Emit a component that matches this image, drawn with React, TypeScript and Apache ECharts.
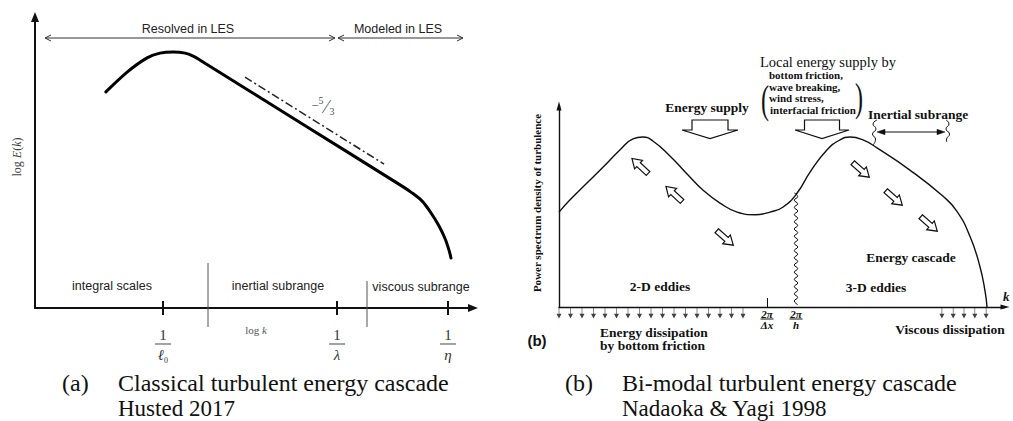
import React, { useEffect, useRef } from 'react';
import * as echarts from 'echarts';

// ---------- Panel (a): classical cascade (x: log k, y: log E(k)) ----------
const spectrumA: [number, number][] = [
  [1.6, 7.3], [2.08, 7.97], [2.53, 8.45], [2.82, 8.61], [3.12, 8.65], [3.39, 8.61],
  [3.57, 8.51], [3.72, 8.38], [6.0, 6.25], [8.24, 4.16], [8.51, 3.89], [8.74, 3.61],
  [8.94, 3.21], [9.12, 2.77], [9.26, 2.33], [9.35, 1.93], [9.39, 1.69],
];
const slopeRefA: [number, number][] = [[4.74, 7.8], [7.88, 4.86]];
const tickValuesA = [2.889, 6.817, 9.323];
const tickDenomsA = ['ℓ', 'λ', 'η'];
const tickSubsA = ['0', '', ''];
const regionLabelsA = ['integral scales', 'inertial subrange', 'viscous subrange'];
const scaleLabelsA = ['Resolved in LES', 'Modeled in LES'];

// ---------- Panel (b): bi-modal cascade ----------
const spectrumB: [number, number][] = [
  [0, 4.63], [0.24, 5.22], [0.62, 6.05], [0.98, 6.83], [1.35, 7.66], [1.64, 8.2],
  [1.86, 8.29], [2.08, 8.1], [2.46, 7.37], [2.84, 6.49], [3.19, 5.71], [3.57, 5.07],
  [3.95, 4.63], [4.35, 4.5], [4.68, 4.63], [4.97, 4.88], [5.28, 5.56], [5.57, 6.59],
  [5.94, 7.66], [6.23, 8.15], [6.45, 8.29], [6.74, 8.15], [7.05, 7.76], [7.78, 6.68],
  [8.51, 5.41], [8.82, 4.68], [9.11, 3.46], [9.33, 2.0], [9.45, 0.73], [9.49, 0],
];
const tickValuesB = [4.612];
const labelValuesB = [4.612, 5.255];
const labelDenomsB = ['Δx', 'h'];
const dissipationLowX = [0, 0.255, 0.51, 0.765, 1.02, 1.275, 1.53, 1.785, 2.04, 2.295, 2.55, 2.805, 3.06, 3.315, 3.57, 3.825, 4.08];
const dissipationHighX = [8.49, 8.74, 8.98, 9.22, 9.47];
const dissipationArrowY = -0.293;

const SERIF = "'Liberation Serif', 'Times New Roman', serif";
const SANS = "'Liberation Sans', Arial, sans-serif";

function nearest(vals: number[], v: number) {
  let best = 0;
  vals.forEach((x, i) => { if (Math.abs(x - v) < Math.abs(vals[best] - v)) best = i; });
  return best;
}

type P = [number, number];

function txt(text: string, x: number, y: number, o: any = {}) {
  return {
    type: 'text', x, y, z: 100, silent: true, rotation: o.rotation || 0,
    style: {
      text, fill: o.fill || '#111', fontFamily: o.family || SERIF, fontSize: o.size || 13,
      fontWeight: o.weight || 'normal', fontStyle: o.style || 'normal',
      align: o.align || 'center', verticalAlign: 'middle', rich: o.rich,
    },
    scaleX: o.scaleX || 1,
  };
}
function line(x1: number, y1: number, x2: number, y2: number, stroke = '#333', w = 1) {
  return { type: 'line', z: 100, silent: true, shape: { x1, y1, x2, y2 }, style: { stroke, lineWidth: w } };
}
function pline(points: P[], stroke = '#111', w = 1, smooth = 0) {
  return { type: 'polyline', z: 100, silent: true, shape: { points, smooth }, style: { stroke, lineWidth: w, fill: 'none' } };
}
function poly(points: P[], fill = '#fff', stroke = '#111', w = 1.2) {
  return { type: 'polygon', z: 100, silent: true, shape: { points }, style: { fill, stroke, lineWidth: w } };
}
function hollowDown(cx: number, halfBody: number, halfWing: number) {
  const top = 120, sh = 130, tip = 138.5;
  return poly([
    [cx - halfBody, top], [cx + halfBody, top], [cx + halfBody, sh], [cx + halfWing, sh],
    [cx, tip], [cx - halfWing, sh], [cx - halfBody, sh],
  ]);
}
function smallArrow(x: number, y: number, deg: number) {
  const pts: P[] = [[-11, -2.6], [2, -2.6], [2, -5.8], [11, 0], [2, 5.8], [2, 2.6], [-11, 2.6]];
  return {
    type: 'polygon', z: 100, silent: true, x, y, rotation: (deg * Math.PI) / 180,
    shape: { points: pts }, style: { fill: '#fff', stroke: '#111', lineWidth: 1.2 },
  };
}

function buildGraphics() {
  const g: any[] = [];
  // ---- Panel (a) ----
  const c = '#333';
  g.push(line(45, 38, 335, 38, c, 1));
  g.push(pline([[51, 35], [45, 38], [51, 41]], c, 1));
  g.push(pline([[329, 35], [335, 38], [329, 41]], c, 1));
  g.push(line(338, 38, 463, 38, c, 1));
  g.push(pline([[344, 35], [338, 38], [344, 41]], c, 1));
  g.push(pline([[457, 35], [463, 38], [457, 41]], c, 1));
  g.push(txt(scaleLabelsA[0], 188, 29, { family: SANS, size: 12.5, fill: '#222' }));
  g.push(txt(scaleLabelsA[1], 398, 29, { family: SANS, size: 12.5, fill: '#222' }));
  g.push(line(208, 263, 208, 327, '#555', 1));
  g.push(line(367, 281, 367, 327, '#555', 1));
  g.push(txt(regionLabelsA[0], 112, 286, { family: SANS, size: 12.5, fill: '#222' }));
  g.push(txt(regionLabelsA[1], 278, 286, { family: SANS, size: 12.5, fill: '#222' }));
  g.push(txt(regionLabelsA[2], 421, 287, { family: SANS, size: 12.5, fill: '#222' }));
  g.push(txt('log {i|k}', 256, 330, { size: 11, fill: '#555', rich: { i: { fontStyle: 'italic', fontFamily: SERIF, fontSize: 11, fill: '#555' } } }));
  g.push(txt('log {i|E}({i|k})', 17, 157, { size: 12, fill: '#444', rotation: Math.PI / 2, rich: { i: { fontStyle: 'italic', fontFamily: SERIF, fontSize: 12, fill: '#444' } } }));
  g.push(txt('−', 315, 105, { size: 13, fill: '#555' }));
  g.push(txt('5', 321, 100, { size: 10, fill: '#555' }));
  g.push(txt('⁄', 326.5, 107, { size: 18, fill: '#555' }));
  g.push(txt('3', 332, 111, { size: 10, fill: '#555' }));
  // captions
  g.push(txt('(a)', 62, 383, { size: 24, align: 'left' }));
  g.push(txt('Classical turbulent energy cascade', 118, 383, { size: 24, align: 'left' }));
  g.push(txt('Husted 2017', 118, 408, { size: 23, align: 'left' }));

  // ---- Panel (b) ----
  g.push(txt('Power spectrum density of turbulence', 536.5, 203, { size: 11, weight: 'bold', rotation: Math.PI / 2 }));
  g.push(txt('Energy supply', 707, 107, { size: 13.5, weight: 'bold' }));
  g.push(hollowDown(710, 18, 28));
  g.push(txt('Local energy supply by', 828, 62, { size: 14.5 }));
  g.push(txt('bottom friction,', 769, 74.5, { size: 11, weight: 'bold', align: 'left' }));
  g.push(txt('wave breaking,', 769, 86.5, { size: 11, weight: 'bold', align: 'left' }));
  g.push(txt('wind stress,', 769, 98, { size: 11, weight: 'bold', align: 'left' }));
  g.push(txt('interfacial friction', 770, 109.5, { size: 11, weight: 'bold', align: 'left' }));
  g.push(txt('(', 765, 100, { size: 40, scaleX: 0.6 }));
  g.push(txt(')', 859, 98, { size: 40, scaleX: 0.6 }));
  g.push(hollowDown(822, 17.5, 27));
  g.push(txt('Inertial subrange', 868, 114, { size: 13.5, weight: 'bold', align: 'left' }));
  g.push(line(880, 132, 942, 132, '#111', 1.2));
  g.push(poly([[877, 132], [885, 129.3], [885, 134.7]], '#111', '#111', 0.5));
  g.push(poly([[945, 132], [937, 129.3], [937, 134.7]], '#111', '#111', 0.5));
  g.push(pline([[877, 120], [873, 124], [876, 129], [872.5, 134], [875.5, 139], [873, 145]], '#111', 1, 0.6));
  g.push(pline([[946, 120], [949, 124], [946, 129], [949.5, 134], [946.5, 139], [947, 142]], '#111', 1, 0.6));
  // diagonal hollow arrows (energy transfer)
  g.push(smallArrow(640, 166, 137));
  g.push(smallArrow(674, 194, 137));
  g.push(smallArrow(725, 238, -41));
  g.push(smallArrow(861, 170, -41));
  g.push(smallArrow(894, 198, -41));
  g.push(smallArrow(929, 224, -41));
  // wavy separator at 2π/h
  const wave: P[] = [];
  for (let y = 193, i = 0; y <= 307; y += 3.6, i++) wave.push([796 + (i % 2 ? 1.7 : -1.7), y]);
  g.push(pline(wave, '#111', 1, 0.5));
  g.push(txt('Energy cascade', 911, 257, { size: 13.5, weight: 'bold' }));
  g.push(txt('2-D eddies', 660, 286, { size: 13.5, weight: 'bold' }));
  g.push(txt('3-D eddies', 876, 287, { size: 13.5, weight: 'bold' }));
  g.push(txt('Energy dissipation', 600, 332, { size: 13.5, weight: 'bold', align: 'left' }));
  g.push(txt('by bottom friction', 600, 345, { size: 13.5, weight: 'bold', align: 'left' }));
  g.push(txt('Viscous dissipation', 950, 329, { size: 13.5, weight: 'bold' }));
  g.push(txt('(b)', 537, 340, { family: SANS, size: 15, weight: 'bold' }));
  g.push(txt('k', 1003, 296, { size: 13, weight: 'bold', style: 'italic', align: 'left' }));
  g.push(txt('(b)', 565, 383, { size: 24, align: 'left' }));
  g.push(txt('Bi-modal turbulent energy cascade', 622, 383, { size: 24, align: 'left' }));
  g.push(txt('Nadaoka & Yagi 1998', 622, 408, { size: 23, align: 'left' }));
  return g;
}

export default function App() {
  const ref = useRef<HTMLDivElement>(null);
  useEffect(() => {
    if (!ref.current) return;
    const chart = echarts.init(ref.current, undefined, { renderer: 'svg' });
    const hidden = { show: false };
    chart.setOption({
      animation: false,
      backgroundColor: '#fff',
      grid: [
        { left: 35, top: 17, width: 438, height: 291 },
        { left: 559, top: 106, width: 446, height: 201 },
      ],
      xAxis: [
        {
          gridIndex: 0, type: 'value', min: 0, max: 9.887, position: 'bottom',
          axisLine: { show: true, onZero: false, symbol: ['none', 'triangle'], symbolSize: [8, 10], lineStyle: { color: '#111', width: 2 } },
          axisTick: { show: true, customValues: tickValuesA, length: 7, lineStyle: { color: '#111', width: 2 } },
          axisLabel: {
            show: true, customValues: tickValuesA, margin: 19, hideOverlap: false,
            formatter: (v: number) => {
              const i = nearest(tickValuesA, v);
              return `{n|1}\n{bar|}\n{d|${tickDenomsA[i]}}` + (tickSubsA[i] ? `{s|${tickSubsA[i]}}` : '');
            },
            rich: {
              n: { fontFamily: SERIF, fontSize: 15, lineHeight: 15, color: '#333' },
              bar: { width: 16, height: 1, lineHeight: 4, backgroundColor: '#444' },
              d: { fontFamily: SERIF, fontStyle: 'italic', fontSize: 15, lineHeight: 18, color: '#333' },
              s: { fontFamily: SERIF, fontSize: 8, lineHeight: 18, color: '#333', verticalAlign: 'bottom', padding: [6, 0, 0, 0] },
            },
          },
          splitLine: hidden,
        },
        {
          gridIndex: 0, type: 'value', min: 0, max: 9.887, position: 'bottom',
          axisLine: { show: false, onZero: false },
          axisTick: { show: true, inside: true, customValues: tickValuesA, length: 7, lineStyle: { color: '#111', width: 2 } },
          axisLabel: hidden, splitLine: hidden,
        },
        {
          gridIndex: 1, type: 'value', min: 0, max: 9.889, position: 'bottom',
          axisLine: { show: true, onZero: false, symbol: ['none', 'triangle'], symbolSize: [5, 9], lineStyle: { color: '#111', width: 1.4 } },
          axisTick: { show: true, inside: true, customValues: tickValuesB, length: 9, lineStyle: { color: '#111', width: 1 } },
          axisLabel: {
            show: true, customValues: labelValuesB, margin: 3, hideOverlap: false,
            formatter: (v: number) => `{n|2π}\n{bar|}\n{d|${labelDenomsB[nearest(labelValuesB, v)]}}`,
            rich: {
              n: { fontFamily: SERIF, fontSize: 11, fontWeight: 'bold', fontStyle: 'italic', lineHeight: 8, color: '#111' },
              bar: { width: 13, height: 1, lineHeight: 2, backgroundColor: '#111' },
              d: { fontFamily: SERIF, fontSize: 11, fontWeight: 'bold', fontStyle: 'italic', lineHeight: 10, color: '#111' },
            },
          },
          splitLine: hidden,
        },
      ],
      yAxis: [
        {
          gridIndex: 0, type: 'value', min: 0, max: 9.831,
          axisLine: { show: true, onZero: false, symbol: ['none', 'triangle'], symbolSize: [8, 10], lineStyle: { color: '#111', width: 2 } },
          axisTick: hidden, axisLabel: hidden, splitLine: hidden,
        },
        {
          gridIndex: 1, type: 'value', min: 0, max: 9.805,
          axisLine: { show: true, onZero: false, symbol: ['none', 'triangle'], symbolSize: [5, 9], lineStyle: { color: '#111', width: 1.4 } },
          axisTick: hidden, axisLabel: hidden, splitLine: hidden,
        },
      ],
      series: [
        {
          type: 'line', xAxisIndex: 0, yAxisIndex: 0, data: spectrumA, smooth: 0.3, showSymbol: false,
          lineStyle: { color: '#000', width: 3, cap: 'round' }, silent: true,
        },
        {
          type: 'line', xAxisIndex: 0, yAxisIndex: 0, data: slopeRefA, showSymbol: false,
          lineStyle: { color: '#222', width: 1.5, type: [8, 3, 2, 3] }, silent: true,
        },
        {
          type: 'line', xAxisIndex: 2, yAxisIndex: 1, data: spectrumB, smooth: 0.5, showSymbol: false,
          lineStyle: { color: '#111', width: 1.4 }, silent: true,
        },
        {
          type: 'scatter', xAxisIndex: 2, yAxisIndex: 1, clip: false, silent: true,
          data: [...dissipationLowX, ...dissipationHighX].map((x) => [x, dissipationArrowY]),
          symbol: 'path://M4.4,0L5.6,0L5.6,8L10,8L5,14L0,8L4.4,8Z', symbolSize: [5, 11],
          itemStyle: { color: '#111' },
        },
      ],
      graphic: buildGraphics(),
    });
    return () => chart.dispose();
  }, []);
  return <div ref={ref} style={{ position: 'absolute', left: 0, top: 0, width: 1013, height: 421, background: '#fff' }} />;
}
